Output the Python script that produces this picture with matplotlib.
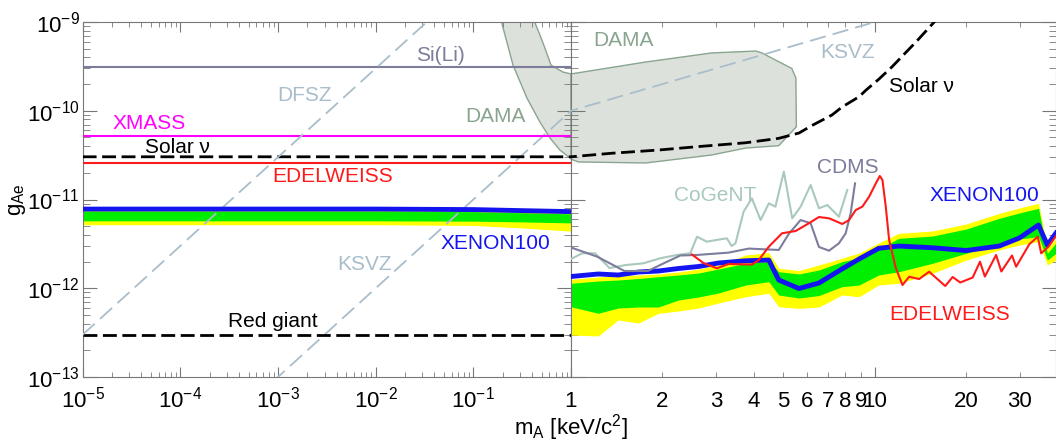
import numpy as np
import matplotlib
matplotlib.use("Agg")
import matplotlib.pyplot as plt
from matplotlib.ticker import FuncFormatter, NullFormatter

plt.rcParams['font.family'] = ['Liberation Sans', 'DejaVu Sans']
plt.rcParams['mathtext.fontset'] = 'custom'
plt.rcParams['mathtext.rm'] = 'Liberation Sans'
plt.rcParams['mathtext.it'] = 'Liberation Sans:italic'
plt.rcParams['axes.unicode_minus'] = False

# ---- data: masses in keV/c^2, couplings g_Ae ----
sili_g = 3.1e-10
xmass_g = 5.2e-11
edel_solar_g = 2.6e-11
red_giant_g = 3e-13

dfsz_m = [1e-5, 1.0]
dfsz_g = [3e-13, 3e-8]
ksvz_m = [1e-5, 40.0]
ksvz_g = [1e-15, 4e-9]

solar_m = [1e-5, 1.0, 1.36, 1.94, 2.63, 3.76, 4.83, 5.63, 6.21, 7.23, 7.80, 8.88,
           9.36, 10.33, 11.4, 13.69, 15.69, 16.3]
solar_g = [3.03e-11, 3.03e-11, 3.32e-11, 3.61e-11, 3.95e-11, 4.36e-11, 4.89e-11,
           5.61e-11, 6.82e-11, 8.96e-11, 1.10e-10, 1.44e-10, 1.71e-10, 2.28e-10,
           3.13e-10, 6.0e-10, 1.0e-9, 1.17e-9]

dama_m = [0.19, 0.255, 0.354, 0.481, 0.61, 0.77, 0.977, 1.0, 1.057, 1.76, 2.90, 3.76,
          4.83, 5.52, 5.50, 5.33, 4.25, 4.06, 2.90, 1.76, 1.0, 0.828, 0.624, 0.541,
          0.481, 0.41]
dama_g = [1.1e-9, 3.27e-10, 1.39e-10, 7.46e-11, 4.93e-11, 3.61e-11, 2.94e-11, 2.85e-11,
          2.65e-11, 2.58e-11, 3.17e-11, 3.80e-11, 4.04e-11, 6.6e-11, 2.34e-10, 3.0e-10,
          4.48e-10, 4.71e-10, 4.48e-10, 3.54e-10, 2.6e-10, 2.73e-10, 3.27e-10, 5.09e-10,
          7.14e-10, 1.1e-9]

# XENON100 solar axion limit (left panel)
xs_m = [1e-5, 1e-2, 0.1, 0.3, 1.0]
xs_lim = [7.8e-12, 7.8e-12, 7.7e-12, 7.5e-12, 7.3e-12]
xs_y_hi = [7.6e-12, 7.6e-12, 7.5e-12, 7.3e-12, 7.1e-12]
xs_g_hi = [7.4e-12, 7.4e-12, 7.3e-12, 7.1e-12, 6.9e-12]
xs_g_lo = [5.75e-12, 5.75e-12, 5.7e-12, 5.6e-12, 5.45e-12]
xs_y_lo = [5.2e-12, 5.2e-12, 5.1e-12, 4.8e-12, 4.4e-12]

# XENON100 galactic ALP limit (right panel)
xa_m = [1.0, 1.23, 1.43, 1.67, 1.94, 2.26, 2.63, 3.06, 3.76, 4.48, 4.83, 5.63, 6.55,
        7.8, 8.88, 10.3, 12.0, 15.5, 20.0, 25.7, 29.9, 34.6, 37.0, 39.5]
xa_lim = [1.356e-12, 1.448e-12, 1.41e-12, 1.524e-12, 1.564e-12, 1.67e-12, 1.758e-12,
          1.926e-12, 2.04e-12, 2.08e-12, 1.239e-12, 0.993e-12, 1.146e-12, 1.648e-12,
          2.137e-12, 2.82e-12, 2.99e-12, 2.86e-12, 2.66e-12, 2.99e-12, 3.68e-12,
          5.16e-12, 3.07e-12, 4.19e-12]
xa_y_hi = [1.262e-12, 1.339e-12, 1.374e-12, 1.41e-12, 1.448e-12, 1.524e-12, 1.648e-12,
           1.828e-12, 2.37e-12, 2.52e-12, 1.679e-12, 1.585e-12, 1.828e-12, 2.175e-12,
           2.495e-12, 3.236e-12, 4.16e-12, 4.42e-12, 5.30e-12, 6.99e-12, 8.02e-12,
           9.06e-12, 2.82e-12, 3.65e-12]
xa_g_hi = [1.137e-12, 1.207e-12, 1.239e-12, 1.288e-12, 1.349e-12, 1.41e-12, 1.485e-12,
           1.648e-12, 1.911e-12, 1.991e-12, 1.536e-12, 1.448e-12, 1.606e-12, 1.991e-12,
           2.193e-12, 2.77e-12, 3.65e-12, 3.88e-12, 4.65e-12, 6.14e-12, 7.05e-12,
           7.96e-12, 2.476e-12, 3.236e-12]
xa_g_lo = [6.19e-13, 5.22e-13, 5.99e-13, 6.15e-13, 6.15e-13, 7.37e-13, 7.97e-13,
           8.84e-13, 1.088e-12, 1.186e-12, 8.39e-13, 7.76e-13, 8.28e-13, 1.041e-12,
           1.088e-12, 1.41e-12, 1.536e-12, 1.911e-12, 2.476e-12, 3.21e-12, 3.59e-12,
           3.81e-12, 2.08e-12, 2.476e-12]
xa_y_lo = [2.97e-13, 2.90e-13, 4.39e-13, 4.06e-13, 5.22e-13, 5.54e-13, 5.99e-13,
           6.82e-13, 8.03e-13, 8.77e-13, 6.19e-13, 5.94e-13, 6.15e-13, 8.39e-13,
           8.03e-13, 1.088e-12, 1.137e-12, 1.474e-12, 2.08e-12, 2.70e-12, 3.07e-12,
           3.35e-12, 1.828e-12, 2.08e-12]

cogent_m = [1.0, 1.09, 1.20, 1.34, 1.52, 1.73, 1.97, 2.23, 2.47, 2.60, 2.80, 3.10, 3.26,
            3.38, 3.48, 3.70, 3.94, 4.21, 4.48, 4.71, 5.02, 5.35, 5.70, 6.15, 6.55, 6.98,
            7.62, 8.12]
cogent_g = [2.14e-12, 2.48e-12, 2.48e-12, 1.69e-12, 1.83e-12, 1.91e-12, 2.18e-12,
            2.37e-12, 2.48e-12, 3.81e-12, 3.35e-12, 3.56e-12, 3.65e-12, 2.99e-12,
            3.21e-12, 7.29e-12, 1.03e-11, 5.87e-12, 9.06e-12, 8.30e-12, 2.06e-11,
            6.14e-12, 8.30e-12, 1.457e-11, 7.96e-12, 8.67e-12, 6.40e-12, 1.28e-11]

cdms_m = [1.0, 1.22, 1.50, 1.79, 2.02, 2.29, 2.59, 3.30, 3.85, 4.83, 5.21, 5.70, 6.15,
          6.55, 7.07, 7.62, 8.02, 8.33, 8.61]
cdms_g = [2.88e-12, 2.27e-12, 1.564e-12, 1.564e-12, 1.911e-12, 2.34e-12, 2.37e-12,
          2.52e-12, 2.80e-12, 2.70e-12, 4.09e-12, 5.87e-12, 5.40e-12, 2.92e-12,
          2.65e-12, 3.21e-12, 4.16e-12, 6.99e-12, 1.52e-11]

edel_m = [2.50, 2.73, 3.02, 3.30, 3.94, 4.15, 4.48, 4.95, 5.49, 6.07, 6.55, 7.07, 7.82,
          8.23, 8.66, 9.10, 9.58, 10.08, 10.39, 10.6, 10.87, 11.15, 11.73, 12.34, 12.98,
          14.0, 15.1, 17.06, 18.04, 19.12, 21.0, 22.2, 23.04, 25.08, 26.1, 28.3, 29.2,
          32.3, 34.4, 35.3, 37.3, 39.5]
edel_g = [2.40e-12, 1.926e-12, 1.679e-12, 1.876e-12, 1.85e-12, 2.08e-12, 2.94e-12,
          4.16e-12, 4.42e-12, 5.40e-12, 6.35e-12, 6.14e-12, 5.30e-12, 5.87e-12,
          7.62e-12, 8.30e-12, 1.075e-11, 1.52e-11, 1.84e-11, 1.66e-11, 8.30e-12,
          3.50e-12, 1.69e-12, 1.088e-12, 1.349e-12, 1.27e-12, 1.536e-12, 1.06e-12,
          1.339e-12, 1.161e-12, 1.32e-12, 1.991e-12, 1.356e-12, 2.37e-12, 1.545e-12,
          2.34e-12, 1.75e-12, 3.15e-12, 3.81e-12, 2.476e-12, 2.94e-12, 3.88e-12]

right_major = [1, 10]
right_minor = [2, 3, 4, 5, 6, 7, 8, 9, 20, 30]

# ---- colours ----
c_sili = '#7c7c9c'
c_axion = '#a9bdca'
c_dama = '#8aa58f'
c_blue = '#1414f0'
c_green = '#00ee00'
c_yellow = '#ffff00'
c_red = '#ff1a1a'
c_cogent = '#a9c9bc'
c_frame = '#777777'

fig = plt.figure(figsize=(10.56, 4.44), dpi=100)
axL = fig.add_axes([0.0783, 0.1509, 0.4624, 0.7995])
axR = fig.add_axes([0.5407, 0.1509, 0.4593, 0.7995])

# DAMA outline split at m = 1 for the two panels
dm = np.array(dama_m)
dg = np.array(dama_g)
dama_parts = {axL: dm <= 1.0, axR: dm >= 0.0}

for ax in (axL, axR):
    ax.set_xscale('log')
    ax.set_yscale('log')
    ax.set_ylim(1e-13, 1e-9)
    keep = dama_parts[ax]
    ax.fill(dm[keep], dg[keep], facecolor='#dce1dc', edgecolor=c_dama, lw=1, zorder=1)
    ax.plot(ksvz_m, ksvz_g, color=c_axion, lw=1.3, dashes=(9, 4), zorder=3)
    ax.plot(solar_m, solar_g, color='black', lw=2, dashes=(5, 2), zorder=3)
    for s in ax.spines.values():
        s.set_color(c_frame)
    ax.tick_params(which='both', direction='in', top=True, right=True,
                   color=c_frame, labelcolor='black', labelsize=16)
    ax.tick_params(axis='y', which='major', length=10, pad=2)
    ax.tick_params(axis='y', which='minor', length=5)
    ax.tick_params(axis='x', which='major', length=7.5)
    ax.tick_params(axis='x', which='minor', length=3.6)

# ---- left panel ----
axL.set_xlim(1e-5, 1)
axL.fill_between(xs_m, xs_y_lo, xs_y_hi, color=c_yellow, lw=0, zorder=2)
axL.fill_between(xs_m, xs_g_lo, xs_g_hi, color=c_green, lw=0, zorder=2)
axL.plot(xs_m, xs_lim, color=c_blue, lw=3.5, zorder=4)
axL.axhline(sili_g, color=c_sili, lw=1.5, zorder=3)
axL.axhline(xmass_g, color='#ff00ff', lw=1.5, zorder=3)
axL.axhline(edel_solar_g, color=c_red, lw=1.5, zorder=3)
axL.axhline(red_giant_g, color='black', lw=2, dashes=(5, 2), zorder=3)
axL.plot(dfsz_m, dfsz_g, color=c_axion, lw=1.3, dashes=(9, 4), zorder=3)

fs = 15
axL.text(0.0456, 4.25e-10, 'Si(Li)', color=c_sili, fontsize=fs, ha='center', va='center')
axL.text(1.89e-3, 1.5e-10, 'DFSZ', color=c_axion, fontsize=fs, ha='center', va='center')
axL.text(0.167, 8.73e-11, 'DAMA', color=c_dama, fontsize=fs, ha='center', va='center')
axL.text(4.77e-5, 7.28e-11, 'XMASS', color='#ff00ff', fontsize=fs, ha='center', va='center')
axL.text(9.25e-5, 3.9e-11, 'Solar \u03bd', color='black', fontsize=fs, ha='center', va='center')
axL.text(3.66e-3, 1.84e-11, 'EDELWEISS', color=c_red, fontsize=fs, ha='center', va='center')
axL.text(0.167, 3.19e-12, 'XENON100', color=c_blue, fontsize=fs, ha='center', va='center')
axL.text(7.67e-3, 1.83e-12, 'KSVZ', color=c_axion, fontsize=fs, ha='center', va='center')
axL.text(8.9e-4, 4.2e-13, 'Red giant', color='black', fontsize=fs, ha='center', va='center')

axL.xaxis.set_major_formatter(FuncFormatter(
    lambda v, _: f'$10^{{{int(round(np.log10(v)))}}}$' if v < 0.5 else ''))
axL.xaxis.set_minor_formatter(NullFormatter())
axL.yaxis.set_major_formatter(FuncFormatter(
    lambda v, _: f'$10^{{{int(round(np.log10(v)))}}}$'))
axL.yaxis.set_minor_formatter(NullFormatter())
axL.tick_params(axis='x', which='both', pad=7)

# ---- right panel ----
axR.set_xlim(1, 39.5)
axR.fill_between(xa_m, xa_y_lo, xa_y_hi, color=c_yellow, lw=0, zorder=2)
axR.fill_between(xa_m, xa_g_lo, xa_g_hi, color=c_green, lw=0, zorder=2)
axR.plot(xa_m, xa_lim, color=c_blue, lw=3.5, zorder=4)
axR.plot(cogent_m, cogent_g, color=c_cogent, lw=1.5, zorder=5)
axR.plot(cdms_m, cdms_g, color=c_sili, lw=1.5, zorder=5)
axR.plot(edel_m, edel_g, color=c_red, lw=1.5, zorder=5)

axR.text(1.49, 6.27e-10, 'DAMA', color=c_dama, fontsize=fs, ha='center', va='center')
axR.text(8.16, 4.59e-10, 'KSVZ', color=c_axion, fontsize=fs, ha='center', va='center')
axR.text(14.2, 1.9e-10, 'Solar \u03bd', color='black', fontsize=fs, ha='center', va='center')
axR.text(2.98, 1.12e-11, 'CoGeNT', color=c_cogent, fontsize=fs, ha='center', va='center')
axR.text(8.16, 2.32e-11, 'CDMS', color=c_sili, fontsize=fs, ha='center', va='center')
axR.text(22.9, 1.12e-11, 'XENON100', color=c_blue, fontsize=fs, ha='center', va='center')
axR.text(17.7, 5.0e-13, 'EDELWEISS', color=c_red, fontsize=fs, ha='center', va='center')

axR.set_xticks(right_major, labels=[str(v) for v in right_major])
axR.set_xticks(right_minor, labels=[str(v) for v in right_minor], minor=True)
axR.yaxis.set_major_formatter(NullFormatter())
axR.yaxis.set_minor_formatter(NullFormatter())
axR.tick_params(axis='x', which='both', pad=10)

fig.text(0.541, 0.036, 'm$_\\mathrm{A}$ [keV/c$^2$]', fontsize=16, ha='center', va='center')
fig.text(0.017, 0.55, 'g$_\\mathrm{Ae}$', fontsize=16, rotation=90, ha='center', va='center')

fig.savefig('out.png', dpi=100)
